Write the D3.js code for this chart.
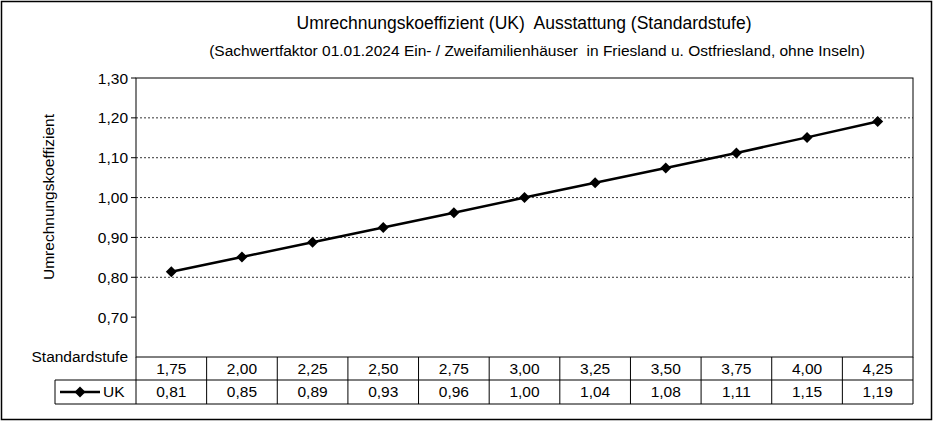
<!DOCTYPE html>
<html><head><meta charset="utf-8">
<script src="https://cdn.jsdelivr.net/npm/d3@7"></script>
<style>body{margin:0;background:#fff}text{font-family:Arial,"Liberation Sans",sans-serif;fill:#000;white-space:pre}</style>
</head><body><svg id="c" width="934" height="422"></svg>
<script>
const stufen=["1,75","2,00","2,25","2,50","2,75","3,00","3,25","3,50","3,75","4,00","4,25"];
const ukValues=[0.814,0.851,0.888,0.925,0.962,1.0,1.037,1.074,1.112,1.151,1.191];
const ukLabels=["0,81","0,85","0,89","0,93","0,96","1,00","1,04","1,08","1,11","1,15","1,19"];
const yTicks=[0.7,0.8,0.9,1.0,1.1,1.2,1.3];
const FS=15.5;
const svg=d3.select("#c");
svg.append("rect").attr("x",1.5).attr("y",1.5).attr("width",930).attr("height",418).attr("fill","#fff").attr("stroke","#000").attr("stroke-width",1.5);
const L=136,R=913,T=78,B=357;
const x=d3.scaleBand().domain(stufen).range([L,R]);
const y=d3.scaleLinear().domain([0.6,1.3]).range([B,T]);
svg.append("text").attr("x",524).attr("y",29).attr("text-anchor","middle").attr("font-size",17.5).text("Umrechnungskoeffizient (UK)  Ausstattung (Standardstufe)");
svg.append("text").attr("x",537).attr("y",56).attr("text-anchor","middle").attr("font-size",15.5).text("(Sachwertfaktor 01.01.2024 Ein- / Zweifamilienhäuser  in Friesland u. Ostfriesland, ohne Inseln)");
svg.append("text").attr("transform","translate(54,197) rotate(-90)").attr("text-anchor","middle").attr("font-size",FS).text("Umrechnungskoeffizient");
svg.selectAll(".g").data(yTicks.filter(d=>d>0.75&&d<1.25)).enter().append("line")
 .attr("x1",L).attr("x2",R).attr("y1",d=>y(d)).attr("y2",d=>y(d)).attr("stroke","#000").attr("stroke-dasharray","2,2").attr("stroke-width",0.8);
svg.append("rect").attr("x",L).attr("y",T).attr("width",R-L).attr("height",B-T).attr("fill","none").attr("stroke","#000");
svg.selectAll(".yt").data(yTicks).enter().append("text").attr("x",L-8).attr("y",d=>y(d)+5.5).attr("text-anchor","end").attr("font-size",FS)
 .text(d=>d3.format(".2f")(d).replace(".",","));
svg.selectAll(".tk").data(yTicks).enter().append("line").attr("x1",L-5).attr("x2",L).attr("y1",d=>y(d)).attr("y2",d=>y(d)).attr("stroke","#000");
const line=d3.line().x((d,i)=>x(stufen[i])+x.bandwidth()/2).y(d=>y(d));
svg.append("path").datum(ukValues).attr("d",line).attr("fill","none").attr("stroke","#000").attr("stroke-width",2.5);
const dia="M0,-5.5L5.5,0L0,5.5L-5.5,0Z";
svg.selectAll(".m").data(ukValues).enter().append("path").attr("d",dia)
 .attr("transform",(d,i)=>`translate(${x(stufen[i])+x.bandwidth()/2},${y(d)})`);
const r1=B,r2=380,r3=404;
svg.append("text").attr("x",L-8).attr("y",B+5).attr("text-anchor","end").attr("font-size",FS).text("Standardstufe");
svg.append("line").attr("x1",55).attr("x2",R).attr("y1",r2).attr("y2",r2).attr("stroke","#000");
svg.append("line").attr("x1",55).attr("x2",R).attr("y1",r3).attr("y2",r3).attr("stroke","#000");
svg.append("line").attr("x1",55).attr("x2",55).attr("y1",r2).attr("y2",r3).attr("stroke","#000");
svg.append("line").attr("x1",R).attr("x2",R).attr("y1",r1).attr("y2",r3).attr("stroke","#000");
svg.selectAll(".cv").data(stufen).enter().append("line").attr("x1",d=>x(d)).attr("x2",d=>x(d)).attr("y1",r1).attr("y2",r3).attr("stroke","#000");
svg.selectAll(".s1").data(stufen).enter().append("text").attr("x",d=>x(d)+x.bandwidth()/2).attr("y",r1+17).attr("text-anchor","middle").attr("font-size",FS).text(d=>d);
svg.selectAll(".s2").data(ukLabels).enter().append("text").attr("x",(d,i)=>x(stufen[i])+x.bandwidth()/2).attr("y",r2+17).attr("text-anchor","middle").attr("font-size",FS).text(d=>d);
svg.append("line").attr("x1",60).attr("x2",100).attr("y1",392).attr("y2",392).attr("stroke","#000").attr("stroke-width",2.5);
svg.append("path").attr("d",dia).attr("transform","translate(80,392)");
svg.append("text").attr("x",103).attr("y",397).attr("font-size",FS).text("UK");
</script></body></html>
